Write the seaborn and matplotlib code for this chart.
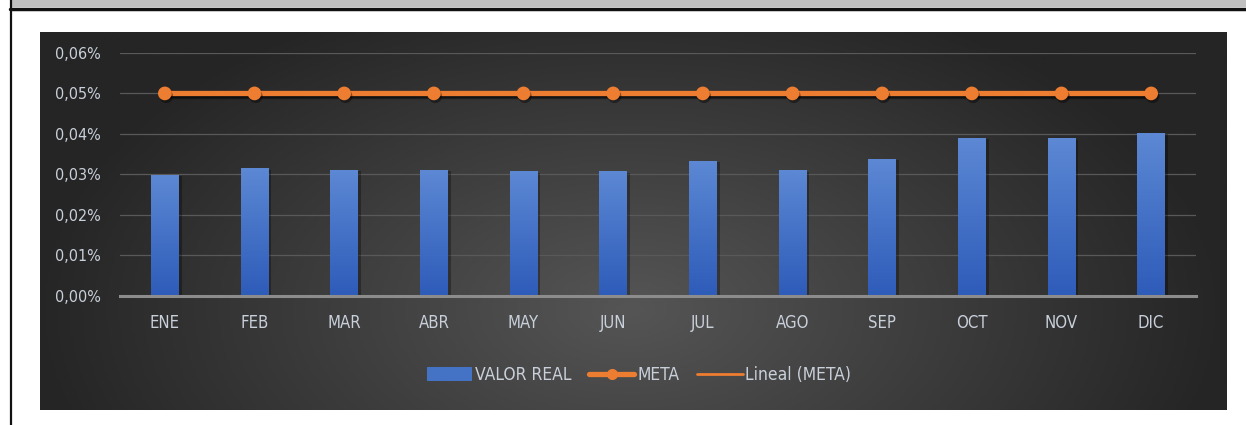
import numpy as np
import pandas as pd
import seaborn as sns
import matplotlib.pyplot as plt
import matplotlib.patheffects as pe
from matplotlib import font_manager
from matplotlib.colors import LinearSegmentedColormap
from matplotlib.lines import Line2D
from matplotlib.patches import Patch, Rectangle
from matplotlib.ticker import FuncFormatter, MultipleLocator

# data (percent values)
months = ['ENE', 'FEB', 'MAR', 'ABR', 'MAY', 'JUN', 'JUL', 'AGO', 'SEP', 'OCT', 'NOV', 'DIC']
valor_real = [0.0298, 0.0315, 0.0311, 0.0311, 0.0307, 0.0307, 0.0333, 0.0310, 0.0338, 0.0390, 0.0389, 0.0402]
meta = [0.05] * 12

sns.set_theme(style='white')
# narrow font, closest to the Calibri look of the original
names = {f.name for f in font_manager.fontManager.ttflist}
narrow = [n for n in ['Liberation Sans Narrow'] if n in names]
plt.rcParams['font.family'] = narrow + ['DejaVu Sans']
plt.rcParams['font.stretch'] = 'condensed'

W, H = 1246, 425
fig = plt.figure(figsize=(W / 100, H / 100), dpi=100)
fig.patch.set_facecolor('white')

# window frame bits at top / left
fig.patches.append(Rectangle((10 / W, 1 - 7 / H), 1, 7 / H, transform=fig.transFigure,
                             facecolor='#c0c0c0', edgecolor='none', zorder=0))
fig.add_artist(Line2D([10 / W, 1], [1 - 8.5 / H] * 2, transform=fig.transFigure, color='#111111', lw=2.5))
fig.add_artist(Line2D([10.5 / W] * 2, [0, 1], transform=fig.transFigure, color='#111111', lw=1.6))

# dark gradient panel
bg = fig.add_axes([40 / W, 15 / H, 1187 / W, 378 / H], zorder=0)
gx, gy = np.meshgrid(np.linspace(40, 1227, 400), np.linspace(32, 410, 150))
d = np.sqrt(((gx - 630) / 600) ** 2 + ((gy - 310) / 340) ** 2)
cmap = LinearSegmentedColormap.from_list('panel', ['#555555', '#252525'])
bg.imshow(np.clip(d, 0, 1), cmap=cmap, vmin=0, vmax=1, aspect='auto', extent=(0, 1, 0, 1), origin='upper')
bg.set_axis_off()

ax = fig.add_axes([120 / W, (H - 295.5) / H, 1076 / W, (295.5 - 53) / H], zorder=1)
ax.set_facecolor('none')

df = pd.DataFrame({'mes': months, 'valor': valor_real, 'meta': meta})

sns.barplot(data=df, x='mes', y='valor', color='#4472c4', width=0.31, ax=ax, zorder=2,
            edgecolor='none', linewidth=0)

# gradient fill on bars
bar_cmap = LinearSegmentedColormap.from_list('bar', ['#2e5cb9', '#5c88d4'])
grad = np.linspace(0, 1, 100).reshape(-1, 1)
for p in ax.patches:
    p.set_path_effects([pe.SimplePatchShadow(offset=(2, -1), shadow_rgbFace='black', alpha=0.3), pe.Normal()])
    x0, y0 = p.get_x(), p.get_y()
    im = ax.imshow(grad, cmap=bar_cmap, aspect='auto', origin='lower', zorder=2.5,
                   extent=(x0, x0 + p.get_width(), y0, y0 + p.get_height()))
    im.set_clip_path(p)

# linear trend of META
xs = np.arange(len(months))
fit = np.polyval(np.polyfit(xs, meta, 1), xs)
ax.plot(xs, fit, color='#ed7d31', lw=2, zorder=3)

sns.pointplot(data=df, x='mes', y='meta', color='#ed7d31', markers='o', markersize=7,
              linewidth=3.8, ax=ax, zorder=4)
for ln in ax.lines[1:]:
    ln.set_path_effects([pe.SimpleLineShadow(offset=(1, -2), shadow_color='black', alpha=0.4), pe.Normal()])

ax.set_xlim(-0.5, 11.5)
ax.set_ylim(0, 0.06)
ax.yaxis.set_major_locator(MultipleLocator(0.01))
ax.yaxis.set_major_formatter(FuncFormatter(lambda v, p: f'{v:.2f}%'.replace('.', ',')))
ax.grid(axis='y', color='#595959', lw=0.9, zorder=0)
ax.set_axisbelow(True)
for s in ['top', 'right', 'left']:
    ax.spines[s].set_visible(False)
ax.spines['bottom'].set_color('#8c8c8c')
ax.spines['bottom'].set_linewidth(2.2)
ax.set_xlabel('')
ax.set_ylabel('')
ax.tick_params(axis='y', length=0, pad=14, labelsize=11.5, labelcolor='#c9d0da')
ax.tick_params(axis='x', length=0, pad=13, labelsize=12, labelcolor='#c9d0da')

handles = [
    Patch(facecolor='#4472c4', edgecolor='none'),
    Line2D([], [], color='#ed7d31', lw=3.8, marker='o', markersize=7),
    Line2D([], [], color='#ed7d31', lw=2),
]
leg = fig.legend(handles, ['VALOR REAL', 'META', 'Lineal (META)'], loc='center',
                 bbox_to_anchor=(639 / W, 50 / H), ncol=3, frameon=False, fontsize=12.5,
                 handlelength=2.6, handleheight=0.8, handletextpad=0.15, columnspacing=1.05)
for t in leg.get_texts():
    t.set_color('#c9d0da')

fig.savefig('out.png', dpi=100)
